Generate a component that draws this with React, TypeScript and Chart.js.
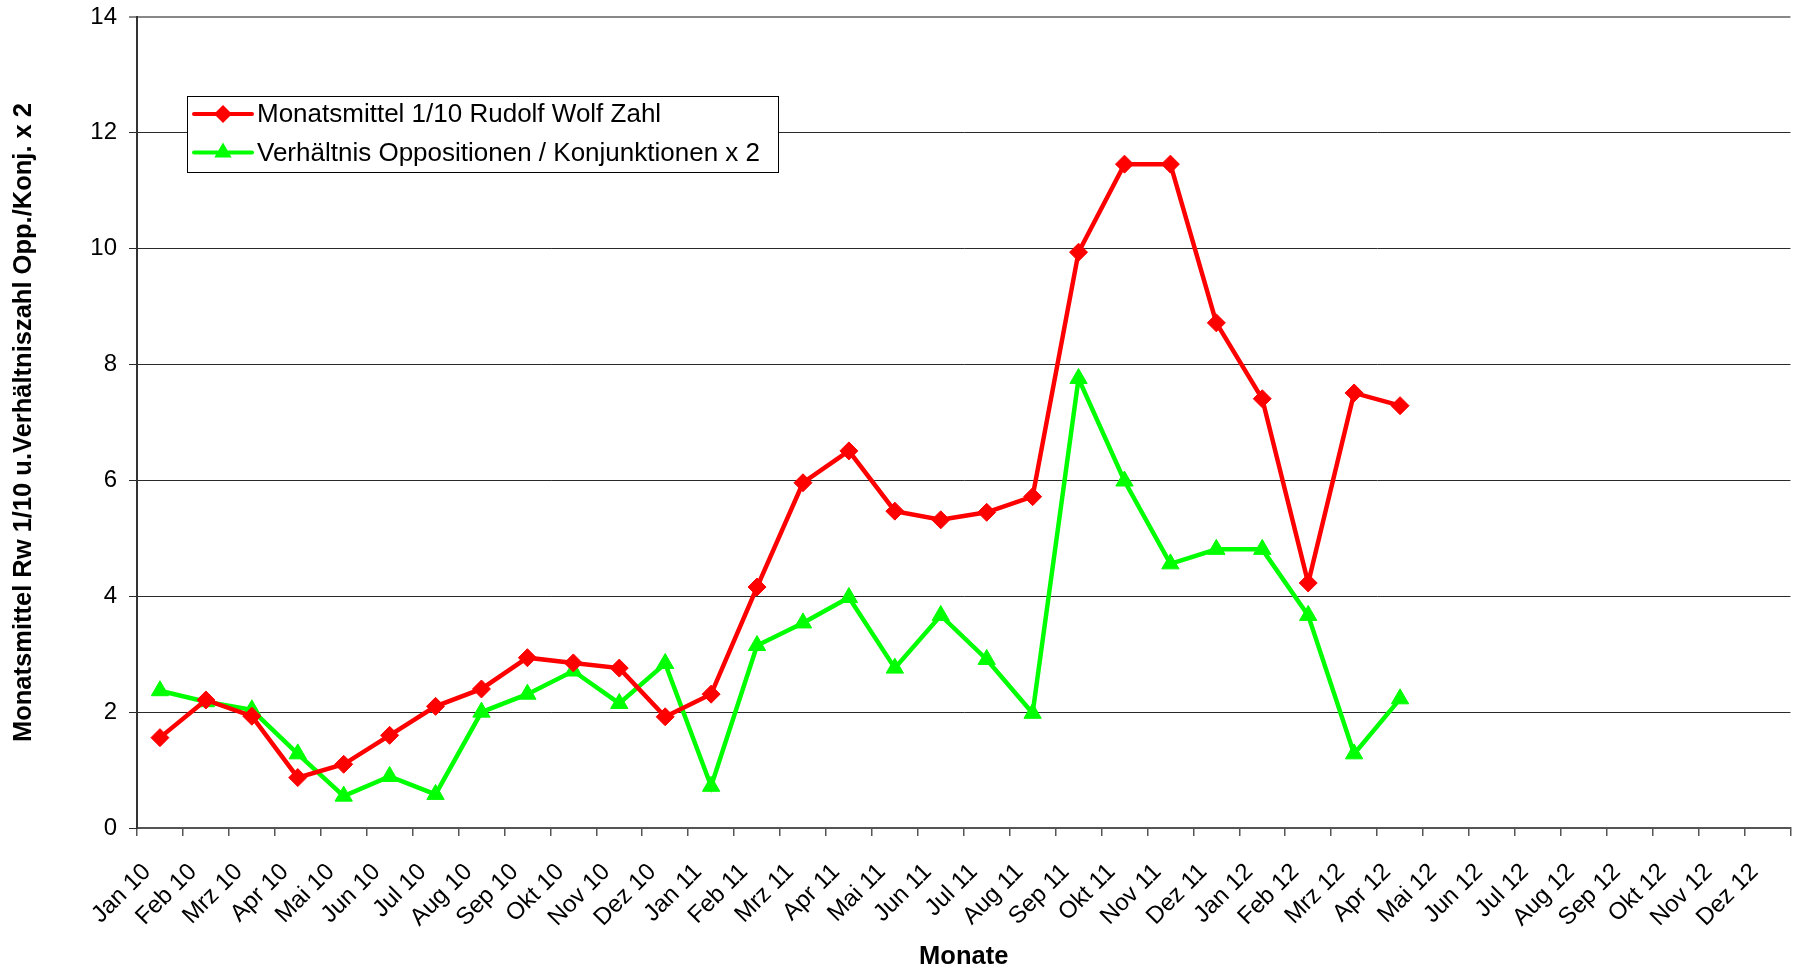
import { useEffect, useRef } from 'react';
import { Chart, registerables } from 'chart.js';

Chart.register(...registerables);

const MONTHS = [
  'Jan 10', 'Feb 10', 'Mrz 10', 'Apr 10', 'Mai 10', 'Jun 10', 'Jul 10', 'Aug 10', 'Sep 10', 'Okt 10', 'Nov 10', 'Dez 10',
  'Jan 11', 'Feb 11', 'Mrz 11', 'Apr 11', 'Mai 11', 'Jun 11', 'Jul 11', 'Aug 11', 'Sep 11', 'Okt 11', 'Nov 11', 'Dez 11',
  'Jan 12', 'Feb 12', 'Mrz 12', 'Apr 12', 'Mai 12', 'Jun 12', 'Jul 12', 'Aug 12', 'Sep 12', 'Okt 12', 'Nov 12', 'Dez 12',
];

const WOLF_LABEL = 'Monatsmittel 1/10 Rudolf Wolf Zahl';
const WOLF_VALUES = [
  1.56, 2.21, 1.93, 0.87, 1.10, 1.60, 2.10, 2.40, 2.94, 2.85, 2.76, 1.92,
  2.31, 4.16, 5.96, 6.51, 5.47, 5.32, 5.45, 5.72, 9.94, 11.46, 11.46, 8.72,
  7.41, 4.23, 7.51, 7.29,
];

const RATIO_LABEL = 'Verhältnis Oppositionen / Konjunktionen x 2';
const RATIO_VALUES = [
  2.37, 2.18, 2.04, 1.28, 0.55, 0.89, 0.58, 2.00, 2.31, 2.71, 2.15, 2.84,
  0.72, 3.15, 3.54, 3.98, 2.76, 3.67, 2.91, 1.98, 7.76, 5.99, 4.56, 4.81,
  4.81, 3.67, 1.28, 2.23,
];

const Y_MIN = 0;
const Y_MAX = 14;
const Y_STEP = 2;

const Y_TITLE = 'Monatsmittel Rw 1/10 u.Verhältniszahl Opp./Konj. x 2';
const X_TITLE = 'Monate';

const FONT = '"Liberation Sans", Arial, sans-serif';

// legend box layout (pixels)
const LEGEND = { x: 187.5, y: 96.5, w: 591, h: 76, lineX0: 194, lineX1: 252, textX: 257, rows: [114, 152.5] };

function drawMarker(ctx: CanvasRenderingContext2D, style: string, x: number, y: number, r: number) {
  ctx.beginPath();
  if (style === 'triangle') {
    for (let k = 0; k < 3; k++) {
      const a = (k * 2 * Math.PI) / 3;
      const px = x + Math.sin(a) * r;
      const py = y - Math.cos(a) * r;
      if (k === 0) ctx.moveTo(px, py);
      else ctx.lineTo(px, py);
    }
  } else {
    ctx.moveTo(x - r, y);
    ctx.lineTo(x, y - r);
    ctx.lineTo(x + r, y);
    ctx.lineTo(x, y + r);
  }
  ctx.closePath();
  ctx.fill();
}

const boxLegend = {
  id: 'boxLegend',
  afterDraw(chart: any) {
    const ctx: CanvasRenderingContext2D = chart.ctx;
    ctx.save();
    ctx.fillStyle = '#ffffff';
    ctx.fillRect(LEGEND.x, LEGEND.y, LEGEND.w, LEGEND.h);
    ctx.strokeStyle = '#000000';
    ctx.lineWidth = 1;
    ctx.strokeRect(LEGEND.x, LEGEND.y, LEGEND.w, LEGEND.h);
    chart.data.datasets.forEach((ds: any, i: number) => {
      const cy = LEGEND.rows[i];
      ctx.strokeStyle = ds.borderColor;
      ctx.lineWidth = 4;
      ctx.lineCap = 'round';
      ctx.beginPath();
      ctx.moveTo(LEGEND.lineX0, cy);
      ctx.lineTo(LEGEND.lineX1, cy);
      ctx.stroke();
      ctx.fillStyle = ds.pointBackgroundColor;
      drawMarker(ctx, ds.pointStyle, (LEGEND.lineX0 + LEGEND.lineX1) / 2, cy, ds.pointRadius);
      ctx.fillStyle = '#000000';
      ctx.font = `26px ${FONT}`;
      ctx.textAlign = 'left';
      ctx.textBaseline = 'middle';
      ctx.fillText(ds.label, LEGEND.textX, cy + 1);
    });
    ctx.restore();
  },
};

export default function App() {
  const canvasRef = useRef<HTMLCanvasElement | null>(null);

  useEffect(() => {
    document.body.style.margin = '0';
    const canvas = canvasRef.current;
    if (!canvas) return;
    const chart = new Chart(canvas, {
      type: 'line',
      data: {
        labels: MONTHS,
        datasets: [
          {
            label: WOLF_LABEL,
            data: WOLF_VALUES,
            borderColor: '#ff0000',
            backgroundColor: '#ff0000',
            pointBackgroundColor: '#ff0000',
            pointBorderColor: '#ff0000',
            pointStyle: 'rectRot',
            pointRadius: 9,
            pointBorderWidth: 1,
            borderWidth: 4.5,
            tension: 0,
            fill: false,
          },
          {
            label: RATIO_LABEL,
            data: RATIO_VALUES,
            borderColor: '#00ff00',
            backgroundColor: '#00ff00',
            pointBackgroundColor: '#00ff00',
            pointBorderColor: '#00ff00',
            pointStyle: 'triangle',
            pointRadius: 10,
            pointBorderWidth: 1,
            borderWidth: 4.5,
            tension: 0,
            fill: false,
          },
        ],
      },
      options: {
        responsive: false,
        animation: false,
        layout: { padding: { top: 17, right: 0, bottom: 0, left: 0 } },
        plugins: {
          legend: { display: false },
          tooltip: { enabled: false },
        },
        scales: {
          x: {
            type: 'category',
            offset: true,
            grid: {
              offset: true,
              drawOnChartArea: false,
              drawTicks: true,
              tickLength: 8,
              color: '#555555',
              lineWidth: 1.5,
            },
            border: { display: true, color: '#555555', width: 2 },
            ticks: {
              autoSkip: false,
              minRotation: 45,
              maxRotation: 45,
              padding: 22,
              labelOffset: -13,
              color: '#000000',
              font: { family: FONT, size: 24 },
            },
            title: {
              display: true,
              text: X_TITLE,
              color: '#000000',
              font: { family: FONT, size: 25.5, weight: 'bold', lineHeight: 1 },
              padding: { top: 1, bottom: 0 },
            },
            afterFit: (scale: any) => {
              scale.height = 142;
              scale.paddingTop = 0;
            },
          },
          y: {
            min: Y_MIN,
            max: Y_MAX,
            ticks: {
              stepSize: Y_STEP,
              padding: 12,
              color: '#000000',
              font: { family: FONT, size: 24 },
            },
            grid: {
              drawTicks: true,
              tickLength: 8,
              color: (c: any) => (c.tick && c.tick.value === Y_MAX ? '#888888' : '#2a2a2a'),
              lineWidth: (c: any) => (c.tick && c.tick.value === Y_MAX ? 2 : 1),
            },
            border: { display: true, color: '#333333', width: 2 },
            title: {
              display: true,
              text: Y_TITLE,
              color: '#000000',
              font: { family: FONT, size: 25.5, weight: 'bold', lineHeight: 1.2 },
              padding: { top: 9, bottom: 0 },
            },
            afterFit: (scale: any) => {
              scale.width = 137;
              scale.paddingTop = 0;
              scale.paddingBottom = 0;
            },
          },
        },
      },
      plugins: [boxLegend],
    });
    return () => chart.destroy();
  }, []);

  return (
    <div style={{ position: 'fixed', left: 0, top: 0, width: 1805, height: 970, overflow: 'hidden', background: '#ffffff' }}>
      <canvas ref={canvasRef} width={1810} height={970} style={{ display: 'block' }} />
    </div>
  );
}
